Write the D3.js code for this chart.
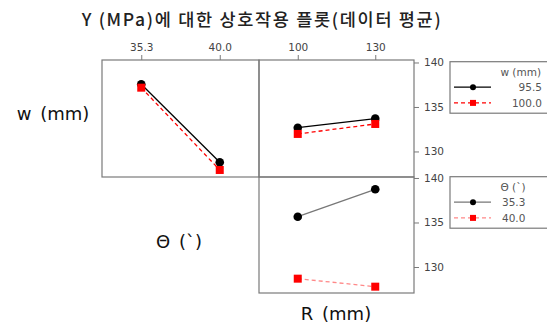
<!DOCTYPE html>
<html>
<head>
<meta charset="utf-8">
<script src="https://cdn.jsdelivr.net/npm/d3@7"></script>
<style>
  body { margin: 0; background: #fff; }
  svg { display: block; }
  text { font-family: "DejaVu Sans", "Noto Sans", sans-serif; }
</style>
</head>
<body>
<svg id="chart" width="547" height="324"></svg>
<script>
// Factor levels
const thetaLevels = ["35.3", "40.0"];
const rLevels = ["100", "130"];
const wLevels = ["95.5", "100.0"];

// Data means of Y (MPa)
const w955ByTheta = [137.55, 128.79];
const w1000ByTheta = [137.17, 127.92];
const w955ByR = [132.67, 133.69];
const w1000ByR = [131.97, 133.09];
const theta353ByR = [135.65, 138.73];
const theta400ByR = [128.69, 127.79];

const yTicks = [130, 135, 140];

const svg = d3.select("#chart");

const colLeft = [102, 259], colRight = [259, 414];
const rowTop = [60, 177], rowBottom = [177, 293];
const frameColor = "#7a7a7a";
const tickTextColor = "#444";

const xTheta = d3.scalePoint().domain(thetaLevels).range(colLeft).padding(0.5);
const xR = d3.scalePoint().domain(rLevels).range(colRight).padding(0.5);
const yTop = d3.scaleLinear().domain([127.13, 140.28]).range([rowTop[1], rowTop[0]]);
const yBottom = d3.scaleLinear().domain([127.08, 140.11]).range([rowBottom[1], rowBottom[0]]);

// Title
svg.append("text")
  .attr("x", 262).attr("y", 26)
  .attr("text-anchor", "middle")
  .style("font-family", "'Noto Sans CJK KR', 'DejaVu Sans', sans-serif")
  .style("font-size", "17.5px").style("font-weight", "500")
  .style("letter-spacing", "1.7px")
  .attr("fill", "#222")
  .text("Y (MPa)에 대한 상호작용 플롯(데이터 평균)");

// Panel frames
function frame(x0, x1, y0, y1) {
  svg.append("rect")
    .attr("x", x0).attr("y", y0)
    .attr("width", x1 - x0).attr("height", y1 - y0)
    .attr("fill", "none").attr("stroke", frameColor).attr("stroke-width", 1.2);
}
frame(colLeft[0], colLeft[1], rowTop[0], rowTop[1]);
frame(colRight[0], colRight[1], rowTop[0], rowTop[1]);
frame(colRight[0], colRight[1], rowBottom[0], rowBottom[1]);

// Top axes
function topAxis(scale) {
  const g = svg.append("g").attr("transform", `translate(0,${rowTop[0]})`)
    .call(d3.axisTop(scale).tickSize(5).tickSizeOuter(0));
  g.select(".domain").remove();
  g.selectAll("line").attr("stroke", frameColor);
  g.selectAll("text").attr("fill", tickTextColor).style("font-size", "10.5px").attr("dy", "-0.1em");
}
topAxis(xTheta);
topAxis(xR);

// Right axes
function rightAxis(scale) {
  const g = svg.append("g").attr("transform", `translate(${colRight[1]},0)`)
    .call(d3.axisRight(scale).tickValues(yTicks).tickSize(5).tickSizeOuter(0).tickPadding(5));
  g.select(".domain").remove();
  g.selectAll("line").attr("stroke", frameColor);
  g.selectAll("text").attr("fill", tickTextColor).style("font-size", "10.5px");
}
rightAxis(yTop);
rightAxis(yBottom);

// Series drawing
function series(xs, levels, vals, y, opt) {
  const pts = levels.map((l, i) => [xs(l), y(vals[i])]);
  svg.append("path")
    .attr("d", d3.line()(pts))
    .attr("fill", "none")
    .attr("stroke", opt.line)
    .attr("stroke-width", 1.3)
    .attr("stroke-dasharray", opt.dash || null);
  pts.forEach(p => {
    if (opt.shape === "circle") {
      svg.append("circle").attr("cx", p[0]).attr("cy", p[1]).attr("r", 4.3).attr("fill", opt.marker);
    } else {
      svg.append("rect").attr("x", p[0] - 4).attr("y", p[1] - 4)
        .attr("width", 8).attr("height", 8).attr("fill", opt.marker);
    }
  });
}

const blackSolid = { line: "#000", marker: "#000", shape: "circle" };
const redDashed = { line: "#f00", marker: "#f00", shape: "square", dash: "4,3" };
const graySolid = { line: "#777", marker: "#000", shape: "circle" };
const pinkDashed = { line: "#f88", marker: "#f00", shape: "square", dash: "4,3" };

series(xTheta, thetaLevels, w955ByTheta, yTop, blackSolid);
series(xTheta, thetaLevels, w1000ByTheta, yTop, redDashed);
series(xR, rLevels, w955ByR, yTop, blackSolid);
series(xR, rLevels, w1000ByR, yTop, redDashed);
series(xR, rLevels, theta353ByR, yBottom, graySolid);
series(xR, rLevels, theta400ByR, yBottom, pinkDashed);

// Factor labels
function factorLabel(x, y, txt) {
  svg.append("text").attr("x", x).attr("y", y)
    .attr("text-anchor", "middle")
    .style("font-size", "18px").attr("fill", "#111")
    .style("word-spacing", "3px")
    .text(txt);
}
factorLabel(53, 120, "w (mm)");
factorLabel(179, 248, "Θ (`)");
factorLabel(336, 320, "R (mm)");

// Legends
function legend(y0, title, labels, styles, titleX, titleAnchor, labelX, labelAnchor) {
  svg.append("rect").attr("x", 450).attr("y", y0)
    .attr("width", 110).attr("height", 51.5)
    .attr("fill", "#fff").attr("stroke", frameColor).attr("stroke-width", 1.2);
  svg.append("text").attr("x", titleX).attr("y", y0 + 14)
    .attr("text-anchor", titleAnchor)
    .style("font-size", "10.5px").attr("fill", "#555").text(title);
  labels.forEach((lab, i) => {
    const cy = y0 + 25.5 + i * 15.7;
    const st = styles[i];
    svg.append("line").attr("x1", 454).attr("x2", 491).attr("y1", cy).attr("y2", cy)
      .attr("stroke", st.line).attr("stroke-width", 1.3)
      .attr("stroke-dasharray", st.dash || null);
    if (st.shape === "circle") {
      svg.append("circle").attr("cx", 473).attr("cy", cy).attr("r", 3).attr("fill", st.marker);
    } else {
      svg.append("rect").attr("x", 470).attr("y", cy - 3).attr("width", 6).attr("height", 6).attr("fill", st.marker);
    }
    svg.append("text").attr("x", labelX).attr("y", cy + 4)
      .attr("text-anchor", labelAnchor)
      .style("font-size", "10.5px").attr("fill", "#555").text(lab);
  });
}
legend(61.7, "w (mm)", wLevels, [blackSolid, redDashed], 541, "end", 542, "end");
legend(176.7, "Θ (`)", thetaLevels, [graySolid, pinkDashed], 513, "middle", 502, "start");
</script>
</body>
</html>
